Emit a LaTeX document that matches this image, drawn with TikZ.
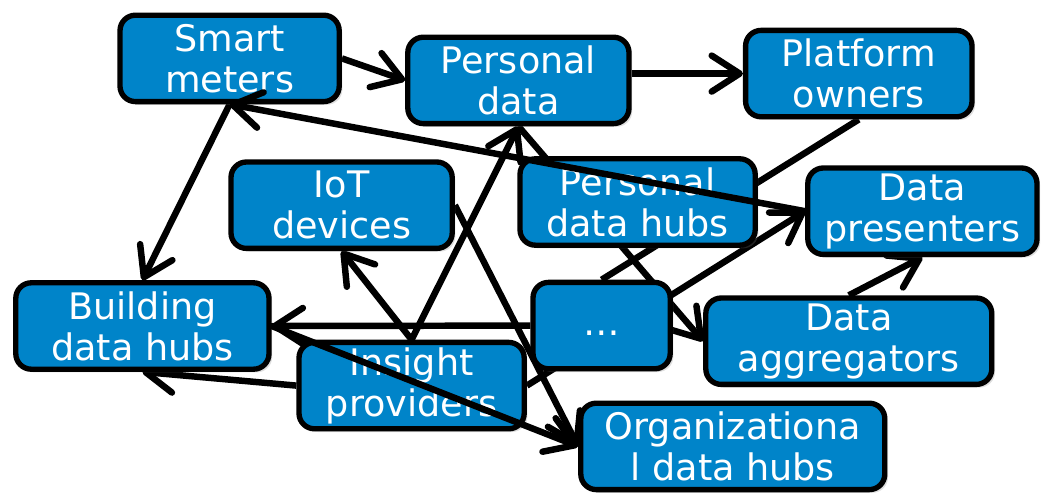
\documentclass[tikz,border=0pt]{standalone}
\usepackage{fontspec}
\setmainfont{DejaVu Sans}
\usepackage{xcolor}
\usetikzlibrary{arrows.meta,backgrounds,shadows}
\definecolor{boxblue}{RGB}{0,132,201}

\begin{document}
\begin{tikzpicture}[line cap=round, line join=round]
				\useasboundingbox (0,0) rectangle (26.075,12.35);
				% ---- tâm của 11 hộp ----
				\coordinate (SM)   at (5.74, 10.89);
				\coordinate (PD)   at (12.96,10.34);
				\coordinate (PO)   at (21.47,10.51);
				\coordinate (IoT)  at (8.54,  7.22);
				\coordinate (PDH)  at (15.94, 7.30);
				\coordinate (DP)   at (23.06, 7.07);
				\coordinate (BDH)  at (3.56,  4.20);
				\coordinate (Dots) at (15.04, 4.21);
				\coordinate (DA)   at (21.22, 3.82);
				\coordinate (IP)   at (10.29, 2.71);
				\coordinate (ODH)  at (18.32, 1.19);
				
				% ---- các hộp ----
				\tikzset{hub/.style={rectangle, rounded corners=11pt, draw=black, line width=3.8pt,
						fill=boxblue, text=white, minimum height=2.16cm, inner sep=0pt, align=center,
						font=\fontsize{26}{29}\selectfont,
						drop shadow={shadow xshift=0.8mm, shadow yshift=-0.8mm, opacity=0.25}},
					link/.style={line width=4.6pt, -{Straight Barb[length=7mm,width=9mm,round]}}}
				\node[hub, minimum width=5.48cm] (nSM)   at (SM)   {Smart\\meters};
				\node[hub, minimum width=5.53cm] (nPD)   at (PD)   {Personal\\data};
				\node[hub, minimum width=5.66cm] (nPO)   at (PO)   {Platform\\owners};
				\node[hub, minimum width=5.53cm] (nIoT)  at (IoT)  {IoT\\devices};
				\node[hub, minimum width=5.88cm] (nPDH)  at (PDH)  {Personal\\data hubs};
				\node[hub, minimum width=5.73cm] (nDP)   at (DP)   {Data\\presenters};
				\node[hub, minimum width=6.33cm] (nBDH)  at (BDH)  {Building\\data hubs};
				\node[hub, minimum width=3.43cm] (nDots) at (Dots) {\raisebox{-0.25cm}[0pt][0pt]{…}};
				\node[hub, minimum width=7.15cm] (nDA)   at (DA)   {Data\\aggregators};
				\node[hub, minimum width=5.63cm] (nIP)   at (IP)   {Insight\\providers};
				\node[hub, minimum width=7.60cm] (nODH)  at (ODH)  {Organizationa\\l data hubs};
				
				% ---- các cạnh nằm dưới hộp ----
				\begin{scope}[on background layer]
					\draw[link] (nSM.east) -- (nPD.west);
					\draw[link] (nPO.west -| nPD.east) -- (nPO.west);
					\draw[link] (nSM.south) -- (nBDH.north);
					\draw[line width=4.6pt] (nPO.south) -- (nDots.north);
					\draw[link] (nPD.south) -- (nDA.west);
					\draw[link] (nIoT.east) -- (nODH.west);
					\draw[link] (nIP.north) -- (nIoT.south);
					\draw[link] (nIP.north) -- (nPD.south);
					\draw[link] (nDots.west) -- (nBDH.east);
					\draw[link] (nIP.west) -- (nBDH.south);
					\draw[link] (nIP.east) -- (nDP.west);
					\draw[link] (nDA.north) -- (nDP.south);
				\end{scope}
				
				% ---- các cạnh vẽ đè lên hộp ----
				\draw[link] (nDP.west) -- (nSM.south);
				\draw[link] (nBDH.east) -- (nODH.west);
			\end{tikzpicture}
\end{document}
